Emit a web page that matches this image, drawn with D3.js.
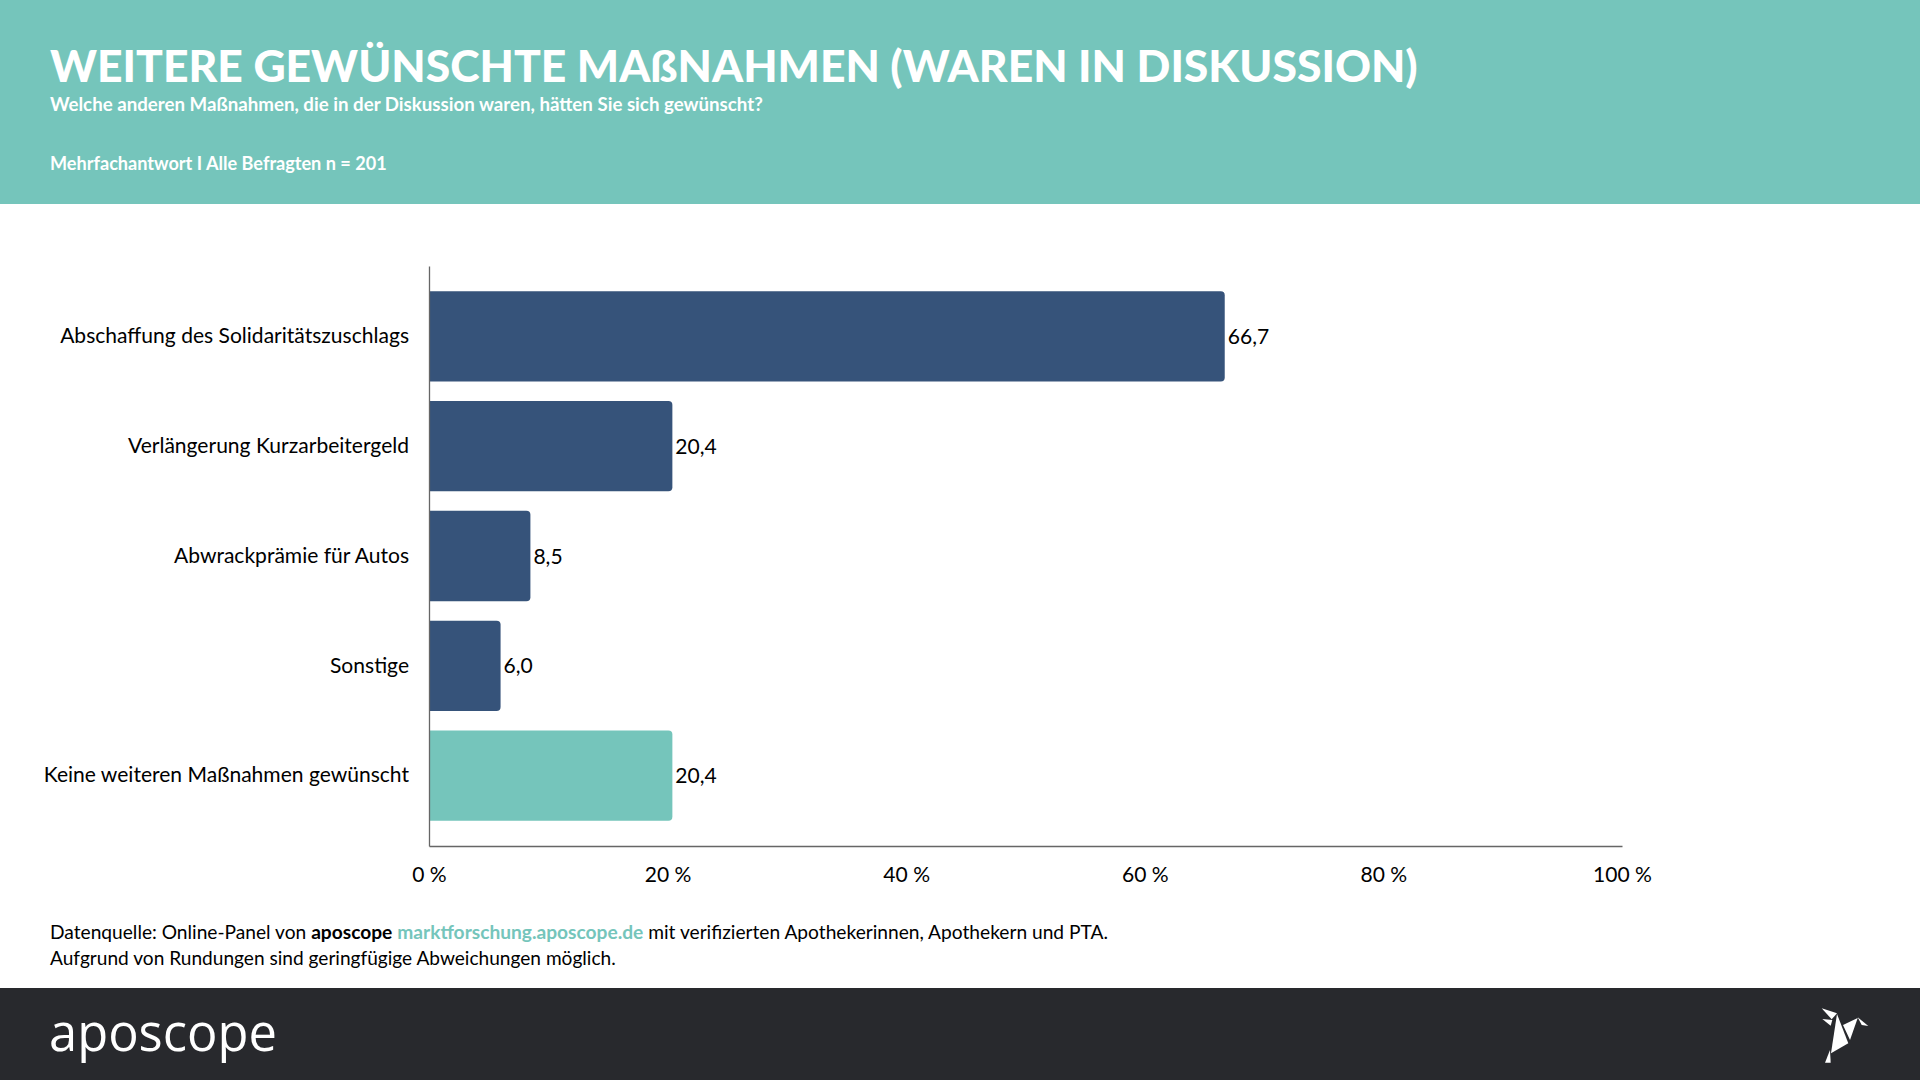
<!DOCTYPE html>
<html lang="de">
<head>
<meta charset="utf-8">
<script src="https://cdn.jsdelivr.net/npm/d3@7"></script>
<style>
  html, body { margin: 0; padding: 0; background: #ffffff; }
  svg { display: block; font-family: Lato, "Open Sans", sans-serif; }
</style>
</head>
<body>
<svg id="chart" width="1920" height="1080"></svg>
<script>
// ---------- data ----------
const categories = [
  "Abschaffung des Solidaritätszuschlags",
  "Verlängerung Kurzarbeitergeld",
  "Abwrackprämie für Autos",
  "Sonstige",
  "Keine weiteren Maßnahmen gewünscht"
];
const values = [66.7, 20.4, 8.5, 6.0, 20.4];
const groups = ["gewünscht", "gewünscht", "gewünscht", "gewünscht", "keine"];
const xTicks = [0, 20, 40, 60, 80, 100];

const titleText = "WEITERE GEWÜNSCHTE MAßNAHMEN (WAREN IN DISKUSSION)";
const subtitleText = "Welche anderen Maßnahmen, die in der Diskussion waren, hätten Sie sich gewünscht?";
const baseText = "Mehrfachantwort I Alle Befragten n = 201";
const noteLine2 = "Aufgrund von Rundungen sind geringfügige Abweichungen möglich.";

// ---------- setup ----------
const W = 1920, H = 1080;
const TEAL = "#75c5bb", NAVY = "#36537a", DARK = "#28292d";
const svg = d3.select("#chart");

// fit font size so that text reaches a target width
function fitWidth(sel, target) {
  sel.each(function () {
    const el = d3.select(this);
    const fs = parseFloat(el.attr("font-size"));
    const w = this.getComputedTextLength();
    if (w > 0) el.attr("font-size", (fs * target / w).toFixed(2));
  });
}

// ---------- header ----------
svg.append("rect").attr("x", 0).attr("y", 0).attr("width", W).attr("height", 204).attr("fill", TEAL);

svg.append("text").attr("x", 50).attr("y", 82)
  .attr("font-size", 48).attr("font-weight", 900).attr("fill", "#fff")
  .text(titleText).call(fitWidth, 1368);

svg.append("text").attr("x", 50).attr("y", 111)
  .attr("font-size", 20).attr("font-weight", 700).attr("fill", "#fff")
  .text(subtitleText).call(fitWidth, 713);

svg.append("text").attr("x", 50).attr("y", 170)
  .attr("font-size", 20).attr("font-weight", 700).attr("fill", "#fff")
  .text(baseText).call(fitWidth, 337);

// ---------- chart ----------
const x = d3.scaleLinear().domain([0, 100]).range([429, 1622]);
const y = d3.scaleBand().domain(categories).range([266, 846])
  .paddingInner(0.178).paddingOuter(0.23);
const color = d3.scaleOrdinal().domain(["gewünscht", "keine"]).range([NAVY, TEAL]);

const data = categories.map((c, i) => ({ cat: c, val: values[i], grp: groups[i] }));

function barPath(x0, y0, w, h, r) {
  r = Math.min(r, w, h / 2);
  return `M${x0},${y0}H${x0 + w - r}Q${x0 + w},${y0} ${x0 + w},${y0 + r}` +
         `V${y0 + h - r}Q${x0 + w},${y0 + h} ${x0 + w - r},${y0 + h}H${x0}Z`;
}

svg.append("g").selectAll("path.bar").data(data).join("path")
  .attr("class", "bar")
  .attr("d", d => barPath(x(0), y(d.cat), x(d.val) - x(0), y.bandwidth(), 4))
  .attr("fill", d => color(d.grp));

svg.append("g").selectAll("text.val").data(data).join("text")
  .attr("class", "val")
  .attr("x", d => x(d.val) + 3)
  .attr("y", d => y(d.cat) + y.bandwidth() / 2)
  .attr("dy", "0.36em")
  .attr("font-size", 20).attr("fill", "#000")
  .text(d => d3.format(".1f")(d.val).replace(".", ","));

// y axis
const yAxis = svg.append("g").attr("transform", `translate(${x(0)},0)`)
  .call(d3.axisLeft(y).tickSize(0).tickPadding(20).tickSizeOuter(0));
yAxis.select(".domain").attr("stroke", "#666").attr("stroke-width", 1.3);
yAxis.selectAll(".tick text").attr("font-size", 20).attr("fill", "#000")
  .attr("font-family", "Lato, 'Open Sans', sans-serif");
fitWidth(yAxis.selectAll(".tick text").filter(d => d === categories[0]), 349);
const catFs = yAxis.selectAll(".tick text").filter(d => d === categories[0]).attr("font-size");
yAxis.selectAll(".tick text").attr("font-size", catFs);
svg.selectAll("text.val").attr("font-size", catFs);

// x axis
const xAxis = svg.append("g").attr("transform", `translate(0,846)`)
  .call(d3.axisBottom(x).tickValues(xTicks).tickSize(0).tickPadding(21).tickSizeOuter(0)
    .tickFormat(d => d + " %"));
xAxis.select(".domain").attr("stroke", "#666").attr("stroke-width", 1.5);
xAxis.selectAll(".tick text").attr("font-size", catFs).attr("fill", "#000")
  .attr("font-family", "Lato, 'Open Sans', sans-serif");

// ---------- footnote ----------
const note1 = svg.append("text").attr("x", 50).attr("y", 939).attr("font-size", 18).attr("fill", "#000");
note1.append("tspan").text("Datenquelle: Online-Panel von ");
note1.append("tspan").attr("font-weight", 700).text("aposcope");
note1.append("tspan").text(" ");
note1.append("tspan").attr("font-weight", 700).attr("fill", TEAL).text("marktforschung.aposcope.de");
note1.append("tspan").text(" mit verifizierten Apothekerinnen, Apothekern und PTA.");
note1.call(fitWidth, 1058);

svg.append("text").attr("x", 50).attr("y", 965).attr("font-size", 18).attr("fill", "#000")
  .text(noteLine2).call(fitWidth, 566);

// ---------- footer ----------
svg.append("rect").attr("x", 0).attr("y", 988).attr("width", W).attr("height", H - 988).attr("fill", DARK);

svg.append("text").attr("x", 49).attr("y", 1051)
  .attr("font-size", 46).attr("font-weight", 400).attr("fill", "#fff")
  .attr("font-family", "'Open Sans', Lato, sans-serif")
  .text("aposcope").call(fitWidth, 228);

// origami bird logo
const bird = [
  [[1821.7, 1008.3], [1837, 1013.3], [1831.7, 1019.3]],
  [[1822.3, 1019], [1832.3, 1020], [1830.7, 1025.7]],
  [[1837, 1014], [1848.3, 1043.3], [1831, 1053.3]],
  [[1843, 1025], [1857.7, 1018], [1850, 1040]],
  [[1857.7, 1017.3], [1868.3, 1026], [1861.7, 1025]],
  [[1825, 1062.7], [1830, 1050], [1830.7, 1062.7]]
];
svg.append("g").selectAll("polygon").data(bird).join("polygon")
  .attr("points", d => d.map(p => p.join(",")).join(" "))
  .attr("fill", "#fff");
</script>
</body>
</html>
